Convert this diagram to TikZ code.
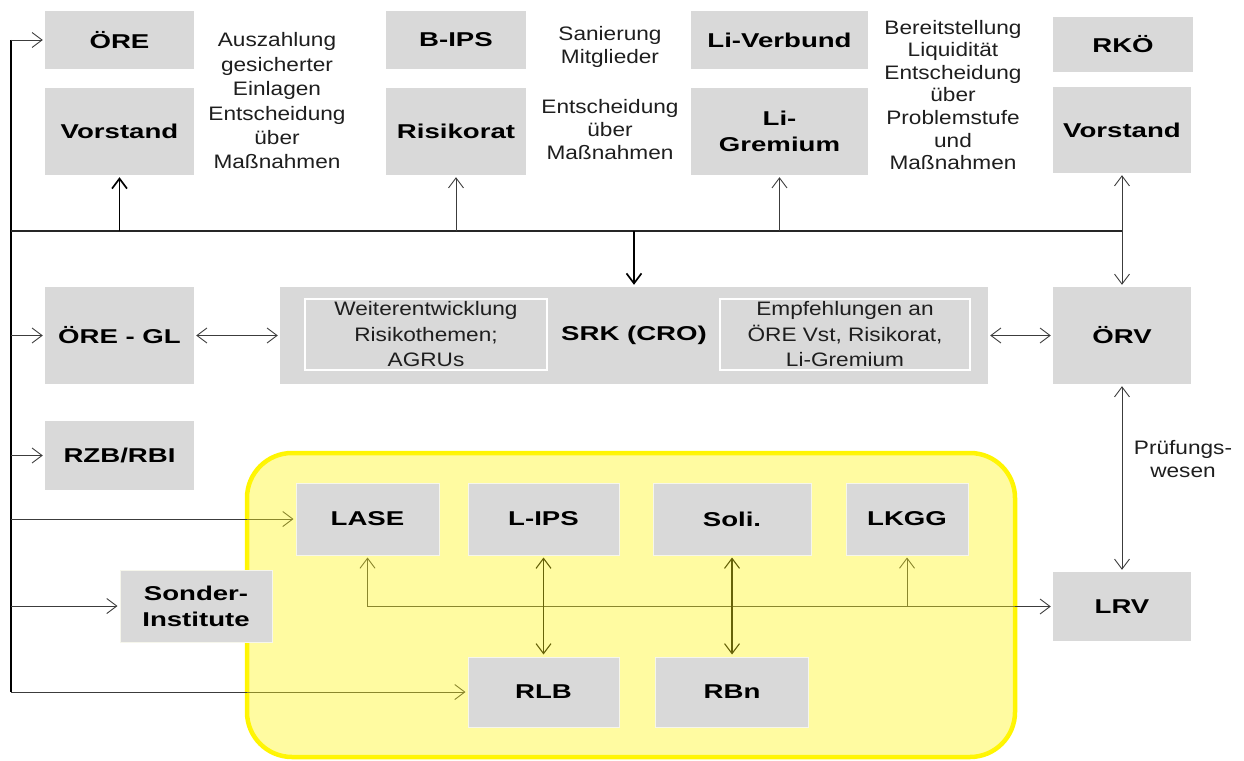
\documentclass[tikz,border=0pt]{standalone}
\usepackage{fontspec}
\setmainfont{Liberation Sans}
\newfontfamily\lblfam{Liberation Sans}[FakeStretch=1.38]
\newfontfamily\txtfam{Liberation Sans}[FakeStretch=1.16]
\usetikzlibrary{arrows.meta}
\pgfdeclarelayer{bg}
\pgfdeclarelayer{lines}
\pgfdeclarelayer{tint}
\pgfsetlayers{bg,lines,tint,main}
\definecolor{boxgray}{RGB}{217,217,217}
\definecolor{ylwborder}{RGB}{255,245,0}
\definecolor{ylwtint}{RGB}{255,245,20}
\definecolor{linegray}{RGB}{60,60,60}
\definecolor{txtgray}{RGB}{30,30,30}
\tikzset{
 gbox/.style={fill=boxgray, inner sep=0pt, align=center, text=black, font=\lblfam\bfseries\fontsize{20}{26}\selectfont},
 ibox/.style={fill=boxgray, draw=white, line width=1.6pt, inner sep=0pt, align=center, text=txtgray, font=\txtfam\fontsize{19.5}{25.5}\selectfont},
 ybox/.style={gbox, draw={rgb,255:red,246;green,246;blue,236}, line width=1pt},
 note/.style={inner sep=0pt, align=center, text=txtgray, font=\txtfam\fontsize{19.5}{22.6}\selectfont},
 widenote/.style={note, font=\txtfam\fontsize{19.5}{24.4}\selectfont},
 wh/.style 2 args={minimum width=#1pt, minimum height=#2pt},
 lnthin/.style={draw=linegray, line width=0.9pt},
 lnthick/.style={draw=black, line width=1.7pt},
 lnbus/.style={draw=black!85, line width=1.3pt},
 lnmid/.style={draw=black, line width=1.1pt},
 arr/.style={-{Straight Barb[length=10pt,width=15pt]}, shorten >=2pt},
 darr/.style={{Straight Barb[length=10pt,width=15pt]}-{Straight Barb[length=10pt,width=15pt]}, shorten >=2pt, shorten <=2pt},
}
\begin{document}
\begin{tikzpicture}[x=1pt,y=-1pt]
\useasboundingbox (0,0) rectangle (1244,760);
\begin{pgfonlayer}{bg}
 \draw[draw=ylwborder, line width=4.5pt, rounded corners=45pt] (247,453) rectangle (1015,757);
\end{pgfonlayer}
\begin{pgfonlayer}{tint}
 \fill[ylwtint, fill opacity=0.4, rounded corners=45pt] (247,453) rectangle (1015,757);
\end{pgfonlayer}
% top row
\node[gbox, wh={149}{58}] (ore) at (119.5,40) {ÖRE};
\node[gbox, wh={149}{87}] (vst1) at (119.5,131.5) {Vorstand};
\node[gbox, wh={140}{58}] (bips) at (456,40) {B-IPS};
\node[gbox, wh={140}{87}] (risk) at (456,131.5) {Risikorat};
\node[gbox, wh={177}{58}] (liv) at (779.5,40) {Li-Verbund};
\node[gbox, wh={177}{87}] (lig) at (779.5,131.5) {Li-\\Gremium};
\node[gbox, wh={140}{55}] (rko) at (1123,44.5) {RKÖ};
\node[gbox, wh={138}{86}] (vst2) at (1122,130) {Vorstand};
\node[widenote] (t1) at (277,101) {Auszahlung\\gesicherter\\Einlagen\\Entscheidung\\über\\Maßnahmen};
\node[note] (t2) at (610,47) {Sanierung\\Mitglieder};
\node[note] (t3) at (610,129.5) {Entscheidung\\über\\Maßnahmen};
\node[note] (t4) at (953,95) {Bereitstellung\\Liquidität\\Entscheidung\\über\\Problemstufe\\und\\Maßnahmen};
% middle row
\node[gbox, wh={149}{97}] (oregl) at (119.5,335.5) {ÖRE - GL};
\node[gbox, wh={708}{97}] (srk) at (634,335.5) {SRK (CRO)};
\node[ibox, wh={242}{71}] (in1) at (426,334.5) {Weiterentwicklung\\Risikothemen;\\AGRUs};
\node[ibox, wh={250}{71}] (in2) at (845,334.5) {Empfehlungen an\\ÖRE Vst, Risikorat,\\Li-Gremium};
\node[gbox, wh={138}{97}] (orv) at (1122,335.5) {ÖRV};
\node[gbox, wh={149}{69}] (rzb) at (119.5,455.5) {RZB/RBI};
% bottom
\node[ybox, wh={143}{72}] (lase) at (367.5,519) {LASE};
\node[ybox, wh={151}{72}] (lips) at (543.5,519) {L-IPS};
\node[ybox, wh={158}{72}] (soli) at (732,519) {Soli.};
\node[ybox, wh={122}{72}] (lkgg) at (907,519) {LKGG};
\node[ybox, wh={152}{72}] (sonder) at (196,606) {Sonder-\\Institute};
\node[gbox, wh={138}{69}] (lrv) at (1122,606.5) {LRV};
\node[ybox, wh={151}{70}] (rlb) at (543.5,692) {RLB};
\node[ybox, wh={153}{70}] (rbn) at (732,692) {RBn};
\node[note] (t5) at (1183,459) {Prüfungs-\\wesen};
% connectors
\begin{pgfonlayer}{lines}
\coordinate (tTop) at (11,40);
\coordinate (tBot) at (11,692);
\coordinate (busL) at (11,231);
\coordinate (busR) at (1122,231);
\draw[lnthick] (tTop) -- (tBot);
\draw[lnthin, arr] (tTop) -- (ore.west);
\draw[lnthin, arr] (tBot |- oregl.west) -- (oregl.west);
\draw[lnthin, arr] (tBot |- rzb.west) -- (rzb.west);
\draw[lnthin, arr] (tBot |- lase.west) -- (lase.west);
\draw[lnthin, arr] (tBot |- sonder.west) -- (sonder.west);
\draw[lnthin, arr] (tBot) -- (rlb.west);
\draw[lnbus] (busL) -- (busR);
\draw[lnthick, arr] (vst1.south |- busL) -- (vst1.south);
\draw[lnthin, arr] (risk.south |- busL) -- (risk.south);
\draw[lnthin, arr] (lig.south |- busL) -- (lig.south);
\draw[lnthick, arr] (srk.north |- busL) -- (srk.north);
\draw[lnthin, darr] (vst2.south) -- (orv.north);
\draw[lnthin, darr] (oregl.east) -- (srk.west);
\draw[lnthin, darr] (srk.east) -- (orv.west);
\draw[lnthin, darr] (orv.south) -- (lrv.north);
\coordinate (hL) at (lase.south |- lrv.west);
\draw[lnthin, arr] (hL) -- (lrv.west);
\draw[lnthin, arr] (hL) -- (lase.south);
\draw[lnthin, arr] (lkgg.south |- hL) -- (lkgg.south);
\draw[lnmid, darr] (lips.south) -- (lips.south |- rlb.north);
\draw[lnmid, darr] (soli.south) -- (soli.south |- rbn.north);
\end{pgfonlayer}
\end{tikzpicture}
\end{document}
